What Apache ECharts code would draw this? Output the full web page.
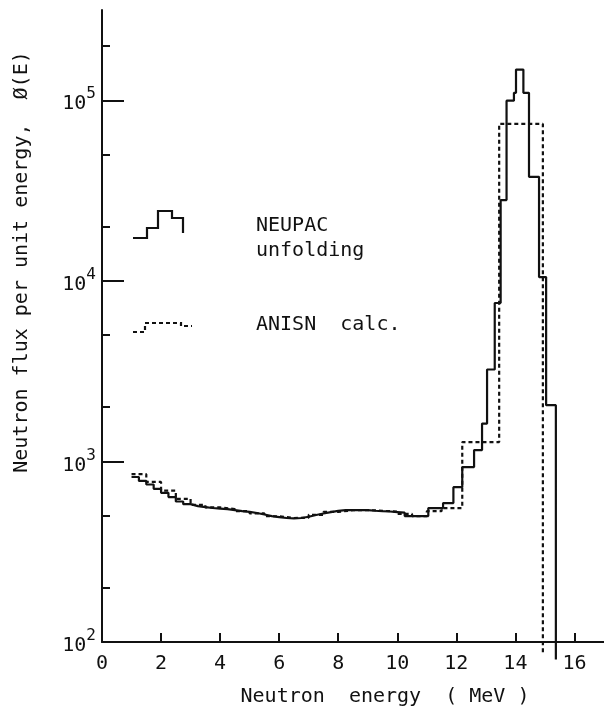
<!DOCTYPE html>
<html>
<head>
<meta charset="utf-8">
<script src="https://cdn.jsdelivr.net/npm/echarts@6/dist/echarts.min.js"></script>
<style>
  html, body { margin: 0; padding: 0; background: #fff; }
  #main { width: 604px; height: 713px; }
</style>
</head>
<body>
<div id="main"></div>
<script>
const FONT = "DejaVu Sans Mono";
const INK = "#111";

// NEUPAC unfolding: left edge of each bin (MeV) and flux in that bin
const neupacEdges = [
  1.0, 1.25, 1.5, 1.75, 2.0, 2.25, 2.5, 2.75, 3.0, 3.25, 3.5, 3.75, 4.0,
  4.25, 4.5, 4.75, 5.0, 5.25, 5.5, 5.75, 6.0, 6.25, 6.5, 6.75, 7.0, 7.25,
  7.5, 7.75, 8.0, 8.25, 8.5, 8.75, 9.0, 9.25, 9.5, 9.75, 10.0,
  10.25, 11.05, 11.55, 11.9, 12.2, 12.6, 12.87, 13.04, 13.3, 13.5, 13.7,
  13.95, 14.02, 14.27, 14.46, 14.8, 15.04
];
const neupacFlux = [
  820, 780, 745, 705, 670, 635, 600, 580, 566, 558, 552, 548, 544,
  538, 531, 525, 518, 508, 498, 492, 486, 484, 486, 494, 505, 515,
  524, 532, 537, 538, 538, 537, 533, 530, 528, 524, 520,
  498, 552, 588, 720, 931, 1156, 1620, 3230, 7540, 28000, 99500,
  110000, 148000, 110000, 37700, 10500, 2050
];
const neupacEnd = 15.37;
const neupacTail = 80;   // where the last edge runs out, just under the axis

// ANISN calc.
const anisnEdges = [
  1.0, 1.5, 2.0, 2.5, 3.0, 3.5, 4.0, 4.5, 5.0, 5.5, 6.0, 6.5, 7.0, 7.5,
  8.0, 8.5, 9.0, 9.5, 10.0, 10.5, 11.0, 11.5, 12.2, 13.45
];
const anisnFlux = [
  850, 770, 690, 620, 575, 556, 545, 530, 515, 497, 486, 488, 506, 525,
  537, 538, 533, 527, 512, 498, 530, 552, 1280, 74000
];
const anisnEnd = 14.93;
const anisnTail = 85;

const xTicks = [0, 2, 4, 6, 8, 10, 12, 14, 16];
const yMajorTicks = [100, 1000, 10000, 100000];
const yMinorTicks = [200, 500, 2000, 5000, 20000, 50000, 200000];

// histogram outline: one point per left edge, then close at the right edge
function toSteps(edges, flux, end, tail) {
  const pts = edges.map((e, i) => [e, flux[i]]);
  pts.push([end, flux[flux.length - 1]]);
  pts.push([end, tail]);
  return pts;
}

const chart = echarts.init(document.getElementById("main"));

const option = {
  backgroundColor: "#fff",
  animation: false,
  grid: { left: 102, right: 0, top: 10, bottom: 71 },
  xAxis: {
    type: "value",
    min: 0,
    max: 17,
    axisLine: { lineStyle: { color: INK, width: 2 } },
    axisTick: {
      inside: true,
      length: 9,
      customValues: xTicks,
      lineStyle: { color: INK, width: 2 },
    },
    axisLabel: {
      customValues: xTicks,
      color: INK,
      fontFamily: FONT,
      fontSize: 20,
      margin: 12,
    },
    splitLine: { show: false },
  },
  yAxis: [
    {
      type: "log",
      logBase: 10,
      min: 100,
      max: 316228,
      axisLine: { show: true, lineStyle: { color: INK, width: 2 } },
      axisTick: {
        inside: true,
        length: 22,
        customValues: yMajorTicks,
        lineStyle: { color: INK, width: 2 },
      },
      axisLabel: {
        customValues: yMajorTicks,
        margin: 6,
        formatter: (v) => "{b|10}{s|" + Math.round(Math.log10(v)) + "}",
        rich: {
          b: { fontFamily: FONT, fontSize: 20, color: INK, lineHeight: 28, verticalAlign: "bottom" },
          s: { fontFamily: FONT, fontSize: 16, color: INK, lineHeight: 28, verticalAlign: "top" },
        },
      },
      splitLine: { show: false },
    },
    {
      // minor ticks at 2 and 5 of each decade
      type: "log",
      logBase: 10,
      min: 100,
      max: 316228,
      position: "left",
      axisLine: { show: false },
      axisTick: {
        inside: true,
        length: 8,
        customValues: yMinorTicks,
        lineStyle: { color: INK, width: 2 },
      },
      axisLabel: { show: false },
      splitLine: { show: false },
    },
  ],
  series: [
    {
      name: "NEUPAC unfolding",
      type: "line",
      step: "end",
      showSymbol: false,
      clip: false,
      data: toSteps(neupacEdges, neupacFlux, neupacEnd, neupacTail),
      lineStyle: { color: INK, width: 2.2 },
    },
    {
      name: "ANISN calc.",
      type: "line",
      step: "end",
      showSymbol: false,
      clip: false,
      data: toSteps(anisnEdges, anisnFlux, anisnEnd, anisnTail),
      lineStyle: { color: INK, width: 2.2, type: [4, 3] },
    },
  ],
  graphic: [
    {
      type: "text",
      x: 22,
      y: 262,
      rotation: Math.PI / 2,
      style: {
        text: "Neutron flux per unit energy,  Ø(E)",
        fontFamily: FONT,
        fontSize: 20,
        fill: INK,
        align: "center",
        verticalAlign: "middle",
      },
    },
    {
      type: "text",
      x: 385,
      y: 697,
      style: {
        text: "Neutron  energy  ( MeV )",
        fontFamily: FONT,
        fontSize: 20,
        fill: INK,
        align: "center",
        verticalAlign: "middle",
      },
    },
    // legend
    {
      type: "polyline",
      shape: {
        points: [[133, 238], [147, 238], [147, 228], [158, 228], [158, 211],
                 [172, 211], [172, 218], [183, 218], [183, 233]],
      },
      style: { stroke: INK, lineWidth: 2.2, fill: null },
    },
    {
      type: "text",
      x: 256,
      y: 238,
      style: {
        text: "NEUPAC\nunfolding",
        fontFamily: FONT,
        fontSize: 20,
        lineHeight: 25,
        fill: INK,
        verticalAlign: "middle",
      },
    },
    {
      type: "polyline",
      shape: {
        points: [[133, 332], [145, 332], [145, 323], [181, 323], [181, 326], [192, 326]],
      },
      style: { stroke: INK, lineWidth: 2.2, fill: null, lineDash: [4, 3] },
    },
    {
      type: "text",
      x: 256,
      y: 325,
      style: {
        text: "ANISN  calc.",
        fontFamily: FONT,
        fontSize: 20,
        fill: INK,
        verticalAlign: "middle",
      },
    },
  ],
};

chart.setOption(option);
</script>
</body>
</html>
